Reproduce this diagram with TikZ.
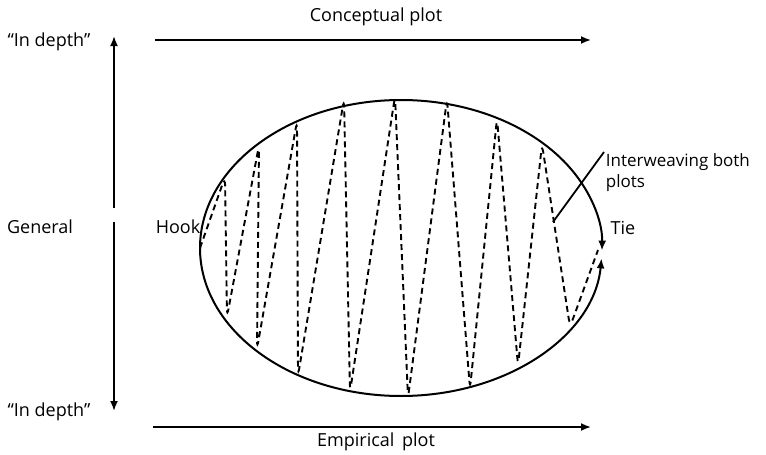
\documentclass[tikz,border=0pt]{standalone}
\usepackage{fontspec}
\setmainfont{Open Sans}
\usetikzlibrary{arrows.meta,positioning}
\tikzset{
  >={Latex[length=10pt,width=8pt]},
  plotfig/.style={x=1pt, y=-1pt, line width=1.8pt, font=\fontsize{18}{21}\selectfont},
  lbl/.style={inner sep=1pt, align=left},
  axis/.style={->, line width=1.8pt},
  storyarc/.style={->, line width=2pt},
  weave/.style={dash pattern=on 6pt off 4pt, line width=1.9pt, rounded corners=8pt},
  pointer/.style={line width=1.8pt}
}

\begin{document}
\begin{tikzpicture}[plotfig]
\useasboundingbox (0,0) rectangle (766,455);

% 1 : Axes
\coordinate (vtop) at (114,36);
\coordinate (vupper) at (114,208);
\coordinate (vlower) at (114,222);
\coordinate (vbot) at (114,411);
\draw[axis] (vupper) -- (vtop);
\draw[axis] (vlower) -- (vbot);

\coordinate (cstart) at (155,40);
\coordinate (cend) at (591,40);
\draw[axis] (cstart) -- (cend);
\coordinate (estart) at (153,427);
\coordinate (eend) at (591,427);
\draw[axis] (estart) -- (eend);

% 2 : Labels
\node[lbl] (conc) at (376,17) {Conceptual plot};
\node[lbl] (emp) at (376,442) {Empirical\, plot};
\node[lbl] (depthtop) at (49,42) {\textquotedblleft In depth\textquotedblright};
\node[lbl] (depthbot) at (49,412) {\textquotedblleft In depth\textquotedblright};
\node[lbl] (general) at (40,227) {General};
\node[lbl] (hook) at (178,227) {Hook};
\node[lbl] (tie) at (623,228) {Tie};
\node[lbl, anchor=north west, font=\fontsize{17}{21}\selectfont] (weavelbl) at (604,152) {Interweaving both\\plots};

% 3 : Ellipse (two arcs meeting at the tie)
\coordinate (hookpt) at (200,248);
\draw[storyarc] (hookpt) arc[start angle=180, end angle=361, x radius=201, y radius=148];
\draw[storyarc] (hookpt) arc[start angle=180, end angle=4, x radius=201, y radius=148];

% 4 : Interweaving (dashed)
\draw[weave] (hookpt) -- (225,177) -- (227,317) -- (259,145) -- (257,349)
  -- (297,121) -- (298,376) -- (344,99) -- (350,392) -- (395,96)
  -- (408,398) -- (447,99) -- (470,389) -- (497,118) -- (518,366)
  -- (542,144) -- (570,327) -- (598,250);

% 5 : Pointer
\coordinate (weavept) at (553,222);
\draw[pointer] (weavept) -- (weavelbl.north west);

\end{tikzpicture}
\end{document}
